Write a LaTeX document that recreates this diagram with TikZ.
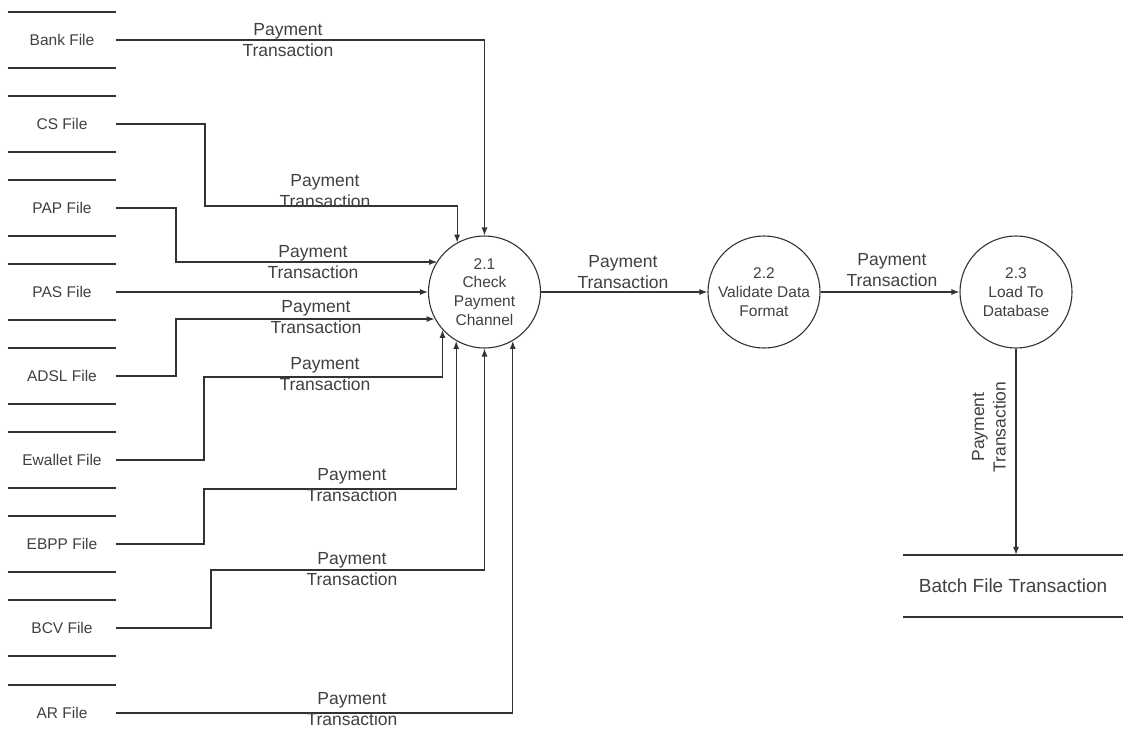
\documentclass[tikz,border=0pt]{standalone}
\usepackage{fontspec}
\setmainfont{Liberation Sans}
\usetikzlibrary{arrows.meta}
\definecolor{linegray}{HTML}{333333}
\definecolor{textgray}{HTML}{404040}
\tikzset{
  store/.style={inner sep=0pt, minimum width=108pt, minimum height=56pt, text=textgray, font=\fontsize{15.5}{18.5}\selectfont},
  storeline/.style={draw=linegray, line width=1.5pt},
  process/.style={circle, draw=linegray, line width=1.1pt, minimum size=112pt, inner sep=0pt, align=center, text=textgray, font=\fontsize{15.5}{18.8}\selectfont},
  flow/.style={draw=linegray, line width=1.1pt, -{Latex[length=8pt,width=6pt]}},
  flowlabel/.style={inner sep=0pt, align=center, text=textgray, font=\fontsize{17.5}{21.5}\selectfont},
}
\begin{document}
\begin{tikzpicture}[x=1pt, y=-1pt]
    \useasboundingbox (0,0) rectangle (1123,736);
    % data stores on the left
    \node[store] (bank) at (62,40) {Bank File};
    \node[store] (cs) at (62,124) {CS File};
    \node[store] (pap) at (62,208) {PAP File};
    \node[store] (pas) at (62,292) {PAS File};
    \node[store] (adsl) at (62,376) {ADSL File};
    \node[store] (ewallet) at (62,460) {Ewallet File};
    \node[store] (ebpp) at (62,544) {EBPP File};
    \node[store] (bcv) at (62,628) {BCV File};
    \node[store] (ar) at (62,713) {AR File};
    \draw[storeline] (bank.north west) -- (bank.north east) (bank.south west) -- (bank.south east);
    \draw[storeline] (cs.north west) -- (cs.north east) (cs.south west) -- (cs.south east);
    \draw[storeline] (pap.north west) -- (pap.north east) (pap.south west) -- (pap.south east);
    \draw[storeline] (pas.north west) -- (pas.north east) (pas.south west) -- (pas.south east);
    \draw[storeline] (adsl.north west) -- (adsl.north east) (adsl.south west) -- (adsl.south east);
    \draw[storeline] (ewallet.north west) -- (ewallet.north east) (ewallet.south west) -- (ewallet.south east);
    \draw[storeline] (ebpp.north west) -- (ebpp.north east) (ebpp.south west) -- (ebpp.south east);
    \draw[storeline] (bcv.north west) -- (bcv.north east) (bcv.south west) -- (bcv.south east);
    \draw[storeline] (ar.north west) -- (ar.north east);
    % processes
    \node[process] (p21) at (484.5,292) {2.1\\Check\\Payment\\Channel};
    \node[process] (p22) at (764,292) {2.2\\Validate Data\\Format};
    \node[process] (p23) at (1016,292) {2.3\\Load To\\Database};
    % batch store
    \node[store, minimum width=220pt, minimum height=62pt, font=\fontsize{19}{22}\selectfont] (batch) at (1013,586) {Batch File Transaction};
    \draw[storeline] (batch.north west) -- (batch.north east) (batch.south west) -- (batch.south east);
    % flows into 2.1
    \draw[flow] (bank.east) -| (p21.north);
    \draw[flow] (cs.east) -| (205,206) -| (p21.119.7);
    \draw[flow] (pap.east) -| (176,262) coordinate (papbend) -- (papbend -| p21.147.9);
    \draw[flow] (pas.east) -- (p21.west);
    \draw[flow] (adsl.east) -| (176,319) coordinate (adslbend) -- (adslbend -| p21.208.5);
    \draw[flow] (ewallet.east) -| (204,377) -| (p21.222.7);
    \draw[flow] (ebpp.east) -| (204,489) -| (p21.240.3);
    \draw[flow] (bcv.east) -| (211,570) -| (p21.south);
    \draw[flow] (ar.east) -| (p21.300.3);
    % flows between processes
    \draw[flow] (p21.east) -- (p22.west);
    \draw[flow] (p22.east) -- (p23.west);
    \draw[flow] (p23.south) -- (p23.south |- batch.north);
    % labels
    \node[flowlabel] (lbank) at (288,40) {Payment\\Transaction};
    \node[flowlabel] (lcs) at (325,191) {Payment\\Transaction};
    \node[flowlabel] (lpap) at (313,262) {Payment\\Transaction};
    \node[flowlabel] (ladsl) at (316,317) {Payment\\Transaction};
    \node[flowlabel] (lewallet) at (325,374) {Payment\\Transaction};
    \node[flowlabel] (lebpp) at (352,485) {Payment\\Transaction};
    \node[flowlabel] (lbcv) at (352,569) {Payment\\Transaction};
    \node[flowlabel] (lar) at (352,709) {Payment\\Transaction};
    \node[flowlabel] (l2122) at (623,272) {Payment\\Transaction};
    \node[flowlabel] (l2223) at (892,270) {Payment\\Transaction};
    \node[flowlabel, rotate=90] (lbatch) at (989,427) {Payment\\Transaction};
\end{tikzpicture}
\end{document}
